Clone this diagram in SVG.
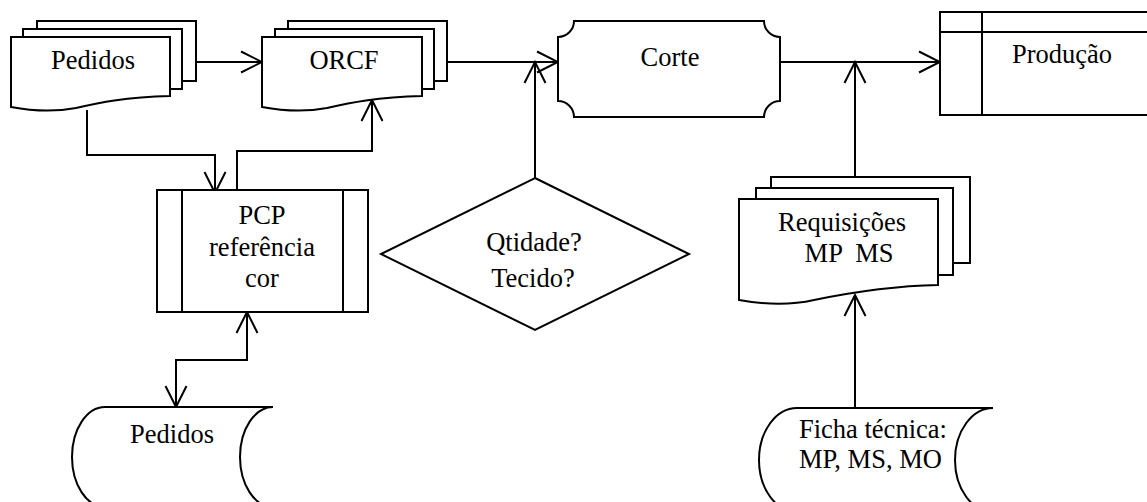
<svg xmlns="http://www.w3.org/2000/svg" width="1147" height="502" viewBox="0 0 1147 502">
  <style>
    .shape { fill: #ffffff; stroke: #000000; stroke-width: 2; }
    .line { fill: none; stroke: #000000; stroke-width: 2; }
    .wire { fill: none; stroke: #000000; stroke-width: 2; }
    .label { font-family: "Liberation Serif", "Times New Roman", serif; font-size: 26.5px; fill: #000000; text-anchor: middle; }
    .left { text-anchor: start; }
  </style>
  <defs>
    <marker id="arrow" viewBox="0 0 24 24" refX="22" refY="12" markerWidth="24" markerHeight="24" markerUnits="userSpaceOnUse" orient="auto-start-reverse">
      <path d="M1,1.5 L22,12 L1,22.5" fill="none" stroke="#000000" stroke-width="2"/>
    </marker>
  </defs>

  <rect width="1147" height="502" fill="#ffffff"/>

  <!-- connectors -->
  <g id="connectors">
    <path class="wire" d="M196,62 H262" marker-end="url(#arrow)"/>
    <path class="wire" d="M447,62 H558" marker-end="url(#arrow)"/>
    <path class="wire" d="M535,178 V62" marker-end="url(#arrow)"/>
    <path class="wire" d="M780,62 H940" marker-end="url(#arrow)"/>
    <path class="wire" d="M855,177 V62" marker-end="url(#arrow)"/>
    <path class="wire" d="M87,110 V155 H215 V193" marker-end="url(#arrow)"/>
    <path class="wire" d="M237,190 V151 H372 V100" marker-end="url(#arrow)"/>
    <path class="wire" d="M247,312 V360 H176 V407" marker-start="url(#arrow)" marker-end="url(#arrow)"/>
    <path class="wire" d="M855,408 V295" marker-end="url(#arrow)"/>
  </g>

  <!-- multi-document: Pedidos -->
  <g id="pedidos-docs">
    <rect class="shape" x="37" y="21" width="159" height="60"/>
    <rect class="shape" x="23" y="29" width="159" height="60"/>
    <path class="shape" d="M11,37 H170 V96 C125,97 98,103 76,108 C55,112 32,111 11,107 Z"/>
    <text class="label" x="93" y="69">Pedidos</text>
  </g>

  <!-- multi-document: ORCF -->
  <g id="orcf-docs">
    <rect class="shape" x="288" y="21" width="159" height="60"/>
    <rect class="shape" x="275" y="29" width="159" height="60"/>
    <path class="shape" d="M262,37 H422 V96 C377,97 349,103 327,108 C306,112 283,111 262,107 Z"/>
    <text class="label" x="344" y="69">ORCF</text>
  </g>

  <!-- Corte (bracketed process) -->
  <g id="corte">
    <path class="shape" d="M574,21 H764 A16,16 0 0 0 780,37 V101 A16,16 0 0 0 764,117 H574 A16,16 0 0 0 558,101 V37 A16,16 0 0 0 574,21 Z"/>
    <text class="label" x="670" y="66">Corte</text>
  </g>

  <!-- Produção (internal storage) -->
  <g id="producao">
    <rect class="shape" x="940" y="12" width="215" height="103"/>
    <path class="line" d="M982,12 V115 M940,32 H1150"/>
    <text class="label" x="1062" y="63">Produção</text>
  </g>

  <!-- PCP (predefined process) -->
  <g id="pcp">
    <rect class="shape" x="157" y="190" width="211" height="122"/>
    <path class="line" d="M182,190 V312 M343,190 V312"/>
    <text class="label" x="262" y="224">PCP</text>
    <text class="label" x="262" y="256">referência</text>
    <text class="label" x="262" y="287">cor</text>
  </g>

  <!-- decision -->
  <g id="decisao">
    <polygon class="shape" points="535,178 689,254 535,330 381,254"/>
    <text class="label" x="534" y="251">Qtidade?</text>
    <text class="label" x="533" y="287">Tecido?</text>
  </g>

  <!-- multi-document: Requisições -->
  <g id="requisicoes-docs">
    <rect class="shape" x="771" y="177" width="199" height="86"/>
    <rect class="shape" x="756" y="188" width="197" height="87"/>
    <path class="shape" d="M739,199 H938 V285 C888,286 848,293 814,300 C792,305 767,305 739,300 Z"/>
    <text class="label" x="842" y="231">Requisições</text>
    <text class="label" x="849" y="262" xml:space="preserve">MP  MS</text>
  </g>

  <!-- stored data: Pedidos -->
  <g id="pedidos-arquivo">
    <path class="shape" d="M105,407 H273 A33,50 0 0 0 273,507 H105 A33,50 0 0 1 105,407 Z"/>
    <text class="label" x="172" y="443">Pedidos</text>
  </g>

  <!-- stored data: Ficha técnica -->
  <g id="ficha-tecnica">
    <path class="shape" d="M797,408 H993 A38,52 0 0 0 993,512 H797 A38,52 0 0 1 797,408 Z"/>
    <text class="label left" x="799" y="438">Ficha técnica:</text>
    <text class="label left" x="799" y="468">MP, MS, MO</text>
  </g>
</svg>
